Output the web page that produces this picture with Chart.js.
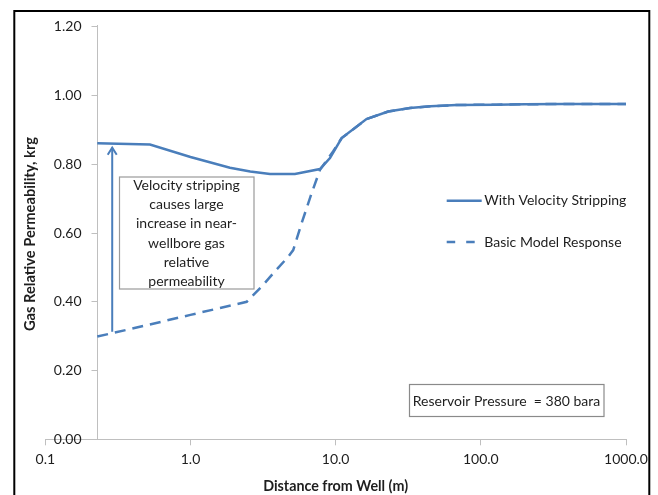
<!DOCTYPE html>
<html>
<head>
<meta charset="utf-8">
<script src="https://cdn.jsdelivr.net/npm/chart.js@4/dist/chart.umd.min.js"></script>
<style>
  html, body { margin: 0; padding: 0; background: #fff; }
  #c { display: block; }
</style>
</head>
<body>
<canvas id="c" width="658" height="495"></canvas>
<script>
// Distance from the well (m) and gas relative permeability for each model
const strippingDist = [0.228, 0.526, 1.0, 1.87, 2.58, 3.53, 5.24, 7.8, 9.14, 11.0, 16.3, 23, 32.5, 45, 68, 128, 200, 368, 1000];
const strippingKrg  = [0.859, 0.855, 0.819, 0.788, 0.777, 0.770, 0.770, 0.784, 0.816, 0.874, 0.929, 0.951, 0.961, 0.966, 0.970, 0.971, 0.972, 0.973, 0.973];

const basicDist = [0.228, 0.5, 1.0, 1.6, 2.44, 3.17, 3.72, 4.72, 5.1, 5.83, 6.83, 7.8, 9.6, 11.0, 16.3, 23, 32.5, 45, 68, 128, 200, 368, 1000];
const basicKrg  = [0.298, 0.331, 0.361, 0.381, 0.399, 0.448, 0.482, 0.530, 0.549, 0.627, 0.714, 0.782, 0.835, 0.874, 0.929, 0.951, 0.961, 0.966, 0.970, 0.971, 0.972, 0.973, 0.973];

const seriesNames = ['With Velocity Stripping', 'Basic Model Response'];

// Axis ticks
const xTickValues = [0.1, 1, 10, 100, 1000];
const yTickValues = [0, 0.2, 0.4, 0.6, 0.8, 1.0, 1.2];

// Annotation texts
const noteLines = ['Velocity stripping', 'causes large', 'increase in near-', 'wellbore gas', 'relative', 'permeability'];
const pressureNote = 'Reservoir Pressure  = 380 bara';

// Arrow from the basic response up to the stripping response (data units)
const arrowDist = 0.289;
const arrowFromKrg = 0.312;
const arrowToKrg = 0.846;

// Vertical axis crosses the distance axis here
const yAxisCross = 0.228;

const BLUE = '#4a7ebb';
const AXIS = '#bfbfbf';
const TEXT = '#1e1e1e';
const FONT = 'Lato, "Open Sans", sans-serif';
const FS = 14;

const decor = {
  id: 'decor',
  beforeDraw(chart) {
    const ctx = chart.ctx;
    ctx.save();
    ctx.fillStyle = '#fff';
    ctx.fillRect(0, 0, chart.width, chart.height);
    ctx.strokeStyle = '#000';
    ctx.lineWidth = 2;
    ctx.strokeRect(14.3, 11, 635, 500);
    ctx.restore();
  },
  afterDatasetsDraw(chart) {
    const ctx = chart.ctx;
    const xs = chart.scales.x, ys = chart.scales.y;
    ctx.save();

    // Vertical axis tick marks and labels, left of the crossing line
    const axX = Math.round(xs.getPixelForValue(yAxisCross)) + 0.5;
    ctx.strokeStyle = AXIS;
    ctx.lineWidth = 1;
    ctx.font = FS + 'px ' + FONT;
    ctx.fillStyle = TEXT;
    ctx.textAlign = 'right';
    ctx.textBaseline = 'middle';
    yTickValues.forEach(v => {
      const py = Math.round(ys.getPixelForValue(v)) + 0.5;
      ctx.beginPath();
      ctx.moveTo(axX - 6, py);
      ctx.lineTo(axX, py);
      ctx.stroke();
      ctx.fillText(v.toFixed(2), axX - 16, py);
    });

    // Arrow
    const ax = xs.getPixelForValue(arrowDist);
    const ay0 = ys.getPixelForValue(arrowFromKrg);
    const ay1 = ys.getPixelForValue(arrowToKrg);
    ctx.strokeStyle = BLUE;
    ctx.lineWidth = 2;
    ctx.beginPath();
    ctx.moveTo(ax, ay0);
    ctx.lineTo(ax, ay1);
    ctx.stroke();
    ctx.beginPath();
    ctx.moveTo(ax - 4.5, ay1 + 7);
    ctx.lineTo(ax, ay1);
    ctx.lineTo(ax + 4.5, ay1 + 7);
    ctx.stroke();

    // Explanatory note box
    ctx.fillStyle = '#fff';
    ctx.fillRect(119, 176.7, 135, 112.3);
    ctx.strokeStyle = '#9a9a9a';
    ctx.lineWidth = 1.2;
    ctx.strokeRect(119.5, 177, 134.5, 112);
    ctx.fillStyle = TEXT;
    ctx.font = FS + 'px ' + FONT;
    ctx.textAlign = 'center';
    ctx.textBaseline = 'middle';
    noteLines.forEach((t, i) => ctx.fillText(t, 186.5, 185 + i * 19.35));

    // Pressure box
    ctx.fillStyle = '#fff';
    ctx.fillRect(409, 384.3, 195, 32.4);
    ctx.strokeStyle = '#8a8a8a';
    ctx.strokeRect(409.5, 384.5, 194.5, 32);
    ctx.fillStyle = TEXT;
    ctx.fillText(pressureNote, 506.5, 401.7);

    // Legend
    ctx.lineWidth = 2.5;
    ctx.strokeStyle = BLUE;
    ctx.beginPath();
    ctx.moveTo(446.7, 200.7);
    ctx.lineTo(481.7, 200.7);
    ctx.stroke();
    ctx.setLineDash([8.5, 11]);
    ctx.beginPath();
    ctx.moveTo(446.7, 242);
    ctx.lineTo(481.7, 242);
    ctx.stroke();
    ctx.setLineDash([]);
    ctx.fillStyle = TEXT;
    ctx.textAlign = 'left';
    ctx.fillText(seriesNames[0], 484.3, 200.7);
    ctx.fillText(seriesNames[1], 484.3, 242);

    // Vertical axis title
    ctx.translate(30, 234);
    ctx.rotate(-Math.PI / 2);
    ctx.font = 'bold 14.7px ' + FONT;
    ctx.textAlign = 'center';
    ctx.fillText('Gas Relative Permeability, krg', 0, 0);
    ctx.restore();
  }
};

const toPoints = (xsArr, ysArr) => xsArr.map((x, i) => ({ x, y: ysArr[i] }));

new Chart(document.getElementById('c'), {
  type: 'line',
  data: {
    datasets: [
      {
        label: seriesNames[0],
        data: toPoints(strippingDist, strippingKrg),
        borderColor: BLUE,
        borderWidth: 2.5,
        pointRadius: 0,
        tension: 0,
        fill: false
      },
      {
        label: seriesNames[1],
        data: toPoints(basicDist, basicKrg),
        borderColor: BLUE,
        borderWidth: 2.5,
        borderDash: [11, 7],
        pointRadius: 0,
        tension: 0,
        fill: false
      }
    ]
  },
  options: {
    responsive: false,
    animation: false,
    devicePixelRatio: 1,
    layout: { padding: { left: 45.3, right: 32, top: 25.7, bottom: 0 } },
    plugins: {
      legend: { display: false },
      tooltip: { enabled: false }
    },
    scales: {
      x: {
        type: 'logarithmic',
        position: 'bottom',
        min: 0.1,
        max: 1000,
        afterBuildTicks: s => { s.ticks = xTickValues.map(v => ({ value: v })); },
        afterFit: s => { s.height = 55.7; },
        grid: { drawOnChartArea: false, drawTicks: true, tickLength: 6, color: AXIS },
        border: { color: AXIS, width: 1 },
        ticks: {
          padding: 6,
          color: TEXT,
          autoSkip: false,
          maxRotation: 0,
          font: { family: FONT, size: FS },
          callback: v => Number(v).toFixed(1)
        },
        title: {
          display: true,
          text: 'Distance from Well (m)',
          color: TEXT,
          font: { family: FONT, size: 14.3, weight: 'bold' },
          padding: { top: 0, bottom: 0 }
        }
      },
      y: {
        type: 'linear',
        position: { x: yAxisCross },
        min: 0,
        max: 1.2,
        afterBuildTicks: s => { s.ticks = yTickValues.map(v => ({ value: v })); },
        grid: { display: false },
        border: { color: AXIS, width: 1 },
        ticks: { display: false }
      }
    }
  },
  plugins: [decor]
});
</script>
</body>
</html>
